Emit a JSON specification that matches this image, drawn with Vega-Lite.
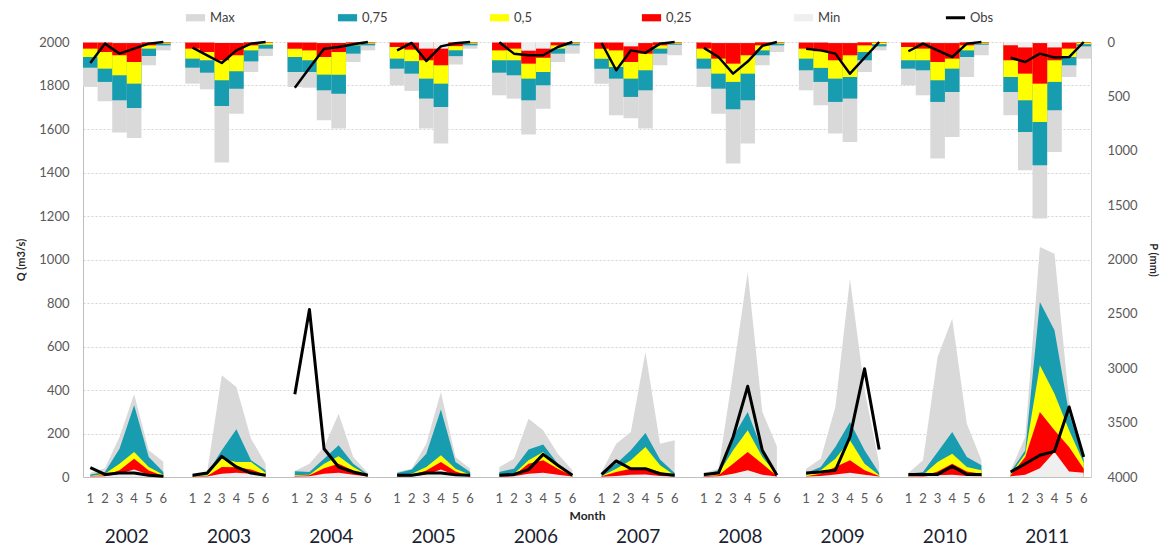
{
  "$schema": "https://vega.github.io/schema/vega-lite/v6.json",
  "width": 1008,
  "height": 435,
  "autosize": {"type": "none"},
  "padding": {"left": 83, "top": 42, "right": 76, "bottom": 72},
  "background": "white",
  "config": {"font": "Lato", "view": {"stroke": null}},
  "datasets": {
    "d": [
      {"k":"2002-1","yr":2002,"qx":20,"q75":12,"q50":5,"q25":3,"qn":2,"qo":43,"px":413,"p75":236,"p50":138,"p25":61,"pn":5,"po":193},
      {"k":"2002-2","yr":2002,"qx":40,"q75":23,"q50":15,"q25":8,"qn":4,"qo":12,"px":545,"p75":367,"p50":245,"p25":92,"pn":5,"po":15},
      {"k":"2002-3","yr":2002,"qx":184,"q75":130,"q50":61,"q25":31,"qn":15,"qo":18,"px":833,"p75":536,"p50":306,"p25":122,"pn":10,"po":107},
      {"k":"2002-4","yr":2002,"qx":380,"q75":330,"q50":115,"q25":84,"qn":35,"qo":18,"px":882,"p75":606,"p50":383,"p25":184,"pn":10,"po":61},
      {"k":"2002-5","yr":2002,"qx":123,"q75":92,"q50":46,"q25":30,"qn":10,"qo":8,"px":214,"p75":129,"p50":61,"p25":31,"pn":3,"po":15},
      {"k":"2002-6","yr":2002,"qx":70,"q75":23,"q50":10,"q25":5,"qn":2,"qo":3,"px":77,"p75":31,"p50":15,"p25":6,"pn":2,"po":0},
      {"k":"2003-1","yr":2003,"qx":12,"q75":8,"q50":4,"q25":2,"qn":1,"qo":8,"px":383,"p75":236,"p50":153,"p25":61,"pn":5,"po":52},
      {"k":"2003-2","yr":2003,"qx":23,"q75":15,"q50":8,"q25":5,"qn":2,"qo":18,"px":435,"p75":282,"p50":168,"p25":92,"pn":5,"po":122},
      {"k":"2003-3","yr":2003,"qx":468,"q75":123,"q50":84,"q25":46,"qn":15,"qo":95,"px":1109,"p75":588,"p50":352,"p25":168,"pn":10,"po":193},
      {"k":"2003-4","yr":2003,"qx":414,"q75":219,"q50":69,"q25":45,"qn":20,"qo":46,"px":659,"p75":429,"p50":270,"p25":122,"pn":10,"po":77},
      {"k":"2003-5","yr":2003,"qx":176,"q75":77,"q50":69,"q25":35,"qn":15,"qo":18,"px":276,"p75":178,"p50":77,"p25":31,"pn":3,"po":15},
      {"k":"2003-6","yr":2003,"qx":61,"q75":31,"q50":20,"q25":10,"qn":3,"qo":8,"px":129,"p75":61,"p50":25,"p25":6,"pn":2,"po":0},
      {"k":"2004-1","yr":2004,"qx":28,"q75":26,"q50":8,"q25":5,"qn":2,"qo":380,"px":413,"p75":276,"p50":138,"p25":61,"pn":5,"po":420},
      {"k":"2004-2","yr":2004,"qx":61,"q75":23,"q50":10,"q25":8,"qn":3,"qo":770,"px":420,"p75":276,"p50":168,"p25":77,"pn":5,"po":239},
      {"k":"2004-3","yr":2004,"qx":138,"q75":84,"q50":61,"q25":40,"qn":15,"qo":130,"px":720,"p75":444,"p50":300,"p25":138,"pn":10,"po":61},
      {"k":"2004-4","yr":2004,"qx":291,"q75":146,"q50":95,"q25":61,"qn":20,"qo":46,"px":796,"p75":475,"p50":300,"p25":92,"pn":10,"po":46},
      {"k":"2004-5","yr":2004,"qx":92,"q75":61,"q50":46,"q25":30,"qn":10,"qo":23,"px":184,"p75":107,"p50":31,"p25":15,"pn":3,"po":21},
      {"k":"2004-6","yr":2004,"qx":18,"q75":12,"q50":8,"q25":5,"qn":2,"qo":8,"px":77,"p75":31,"p50":15,"p25":6,"pn":2,"po":0},
      {"k":"2005-1","yr":2005,"qx":23,"q75":18,"q50":8,"q25":4,"qn":2,"qo":8,"px":398,"p75":245,"p50":153,"p25":46,"pn":5,"po":77},
      {"k":"2005-2","yr":2005,"qx":38,"q75":34,"q50":15,"q25":8,"qn":4,"qo":8,"px":450,"p75":291,"p50":176,"p25":70,"pn":5,"po":9},
      {"k":"2005-3","yr":2005,"qx":153,"q75":107,"q50":46,"q25":30,"qn":12,"qo":18,"px":796,"p75":520,"p50":337,"p25":168,"pn":61,"po":175},
      {"k":"2005-4","yr":2005,"qx":391,"q75":310,"q50":100,"q25":69,"qn":35,"qo":18,"px":933,"p75":597,"p50":383,"p25":214,"pn":61,"po":40},
      {"k":"2005-5","yr":2005,"qx":92,"q75":69,"q50":38,"q25":25,"qn":8,"qo":10,"px":207,"p75":130,"p50":76,"p25":38,"pn":3,"po":12},
      {"k":"2005-6","yr":2005,"qx":38,"q75":23,"q50":10,"q25":5,"qn":2,"qo":8,"px":61,"p75":31,"p50":15,"p25":6,"pn":2,"po":0},
      {"k":"2006-1","yr":2006,"qx":46,"q75":23,"q50":8,"q25":4,"qn":2,"qo":8,"px":490,"p75":282,"p50":168,"p25":77,"pn":5,"po":3},
      {"k":"2006-2","yr":2006,"qx":84,"q75":38,"q50":15,"q25":8,"qn":3,"qo":12,"px":521,"p75":306,"p50":168,"p25":61,"pn":5,"po":107},
      {"k":"2006-3","yr":2006,"qx":268,"q75":126,"q50":77,"q25":61,"qn":15,"qo":34,"px":851,"p75":536,"p50":337,"p25":199,"pn":80,"po":122},
      {"k":"2006-4","yr":2006,"qx":215,"q75":150,"q50":115,"q25":77,"qn":20,"qo":104,"px":613,"p75":398,"p50":276,"p25":145,"pn":61,"po":122},
      {"k":"2006-5","yr":2006,"qx":107,"q75":61,"q50":46,"q25":38,"qn":10,"qo":54,"px":184,"p75":107,"p50":61,"p25":31,"pn":3,"po":46},
      {"k":"2006-6","yr":2006,"qx":31,"q75":12,"q50":8,"q25":5,"qn":2,"qo":8,"px":107,"p75":31,"p50":15,"p25":6,"pn":2,"po":0},
      {"k":"2007-1","yr":2007,"qx":23,"q75":18,"q50":5,"q25":3,"qn":1,"qo":12,"px":383,"p75":245,"p50":153,"p25":61,"pn":5,"po":9},
      {"k":"2007-2","yr":2007,"qx":153,"q75":61,"q50":38,"q25":23,"qn":5,"qo":74,"px":674,"p75":337,"p50":230,"p25":77,"pn":5,"po":260},
      {"k":"2007-3","yr":2007,"qx":207,"q75":123,"q50":77,"q25":38,"qn":10,"qo":38,"px":700,"p75":505,"p50":337,"p25":184,"pn":40,"po":77},
      {"k":"2007-4","yr":2007,"qx":575,"q75":202,"q50":138,"q25":38,"qn":12,"qo":38,"px":796,"p75":444,"p50":260,"p25":107,"pn":10,"po":100},
      {"k":"2007-5","yr":2007,"qx":153,"q75":80,"q50":54,"q25":23,"qn":5,"qo":15,"px":214,"p75":107,"p50":61,"p25":31,"pn":3,"po":15},
      {"k":"2007-6","yr":2007,"qx":169,"q75":18,"q50":8,"q25":5,"qn":2,"qo":8,"px":122,"p75":25,"p50":15,"p25":6,"pn":2,"po":0},
      {"k":"2008-1","yr":2008,"qx":18,"q75":12,"q50":5,"q25":3,"qn":1,"qo":12,"px":413,"p75":245,"p50":153,"p25":61,"pn":5,"po":54},
      {"k":"2008-2","yr":2008,"qx":38,"q75":31,"q50":15,"q25":8,"qn":3,"qo":18,"px":659,"p75":429,"p50":291,"p25":153,"pn":10,"po":138},
      {"k":"2008-3","yr":2008,"qx":480,"q75":184,"q50":123,"q25":61,"qn":15,"qo":184,"px":1118,"p75":619,"p50":367,"p25":199,"pn":10,"po":291},
      {"k":"2008-4","yr":2008,"qx":943,"q75":299,"q50":215,"q25":115,"qn":31,"qo":417,"px":934,"p75":536,"p50":291,"p25":122,"pn":10,"po":180},
      {"k":"2008-5","yr":2008,"qx":300,"q75":123,"q50":92,"q25":61,"qn":10,"qo":123,"px":214,"p75":122,"p50":77,"p25":31,"pn":3,"po":35},
      {"k":"2008-6","yr":2008,"qx":140,"q75":20,"q50":10,"q25":5,"qn":2,"qo":8,"px":92,"p75":31,"p50":15,"p25":6,"pn":2,"po":0},
      {"k":"2009-1","yr":2009,"qx":38,"q75":18,"q50":8,"q25":4,"qn":2,"qo":18,"px":444,"p75":260,"p50":153,"p25":61,"pn":5,"po":61},
      {"k":"2009-2","yr":2009,"qx":84,"q75":46,"q50":31,"q25":15,"qn":5,"qo":23,"px":582,"p75":367,"p50":238,"p25":85,"pn":5,"po":77},
      {"k":"2009-3","yr":2009,"qx":322,"q75":138,"q50":84,"q25":46,"qn":12,"qo":31,"px":842,"p75":551,"p50":337,"p25":168,"pn":10,"po":107},
      {"k":"2009-4","yr":2009,"qx":912,"q75":253,"q50":169,"q25":77,"qn":20,"qo":184,"px":919,"p75":520,"p50":322,"p25":122,"pn":10,"po":291},
      {"k":"2009-5","yr":2009,"qx":400,"q75":123,"q50":61,"q25":31,"qn":10,"qo":498,"px":276,"p75":168,"p50":92,"p25":31,"pn":3,"po":145},
      {"k":"2009-6","yr":2009,"qx":61,"q75":18,"q50":8,"q25":5,"qn":2,"qo":126,"px":77,"p75":40,"p50":20,"p25":6,"pn":2,"po":0},
      {"k":"2010-1","yr":2010,"qx":18,"q75":15,"q50":8,"q25":4,"qn":2,"qo":12,"px":398,"p75":245,"p50":168,"p25":46,"pn":5,"po":85},
      {"k":"2010-2","yr":2010,"qx":77,"q75":23,"q50":10,"q25":5,"qn":2,"qo":12,"px":490,"p75":260,"p50":168,"p25":61,"pn":5,"po":15},
      {"k":"2010-3","yr":2010,"qx":552,"q75":115,"q50":69,"q25":25,"qn":8,"qo":12,"px":1072,"p75":551,"p50":352,"p25":184,"pn":10,"po":77},
      {"k":"2010-4","yr":2010,"qx":728,"q75":207,"q50":107,"q25":61,"qn":10,"qo":49,"px":873,"p75":460,"p50":245,"p25":153,"pn":10,"po":138},
      {"k":"2010-5","yr":2010,"qx":245,"q75":92,"q50":46,"q25":25,"qn":5,"qo":12,"px":322,"p75":138,"p50":77,"p25":31,"pn":3,"po":15},
      {"k":"2010-6","yr":2010,"qx":77,"q75":54,"q50":31,"q25":15,"qn":3,"qo":12,"px":122,"p75":25,"p50":15,"p25":6,"pn":2,"po":0},
      {"k":"2011-1","yr":2011,"qx":31,"q75":23,"q50":12,"q25":8,"qn":3,"qo":23,"px":674,"p75":460,"p50":322,"p25":168,"pn":30,"po":145},
      {"k":"2011-2","yr":2011,"qx":184,"q75":123,"q50":107,"q25":92,"qn":10,"qo":61,"px":1179,"p75":827,"p50":536,"p25":291,"pn":50,"po":184},
      {"k":"2011-3","yr":2011,"qx":1057,"q75":805,"q50":514,"q25":299,"qn":40,"qo":100,"px":1623,"p75":1133,"p50":735,"p25":383,"pn":10,"po":107},
      {"k":"2011-4","yr":2011,"qx":1027,"q75":675,"q50":383,"q25":215,"qn":115,"qo":118,"px":1011,"p75":628,"p50":367,"p25":168,"pn":50,"po":142},
      {"k":"2011-5","yr":2011,"qx":350,"q75":291,"q50":215,"q25":138,"qn":25,"qo":322,"px":322,"p75":214,"p50":138,"p25":61,"pn":5,"po":138},
      {"k":"2011-6","yr":2011,"qx":100,"q75":80,"q50":65,"q25":38,"qn":20,"qo":92,"px":153,"p75":40,"p50":20,"p25":6,"pn":2,"po":0}
    ]
  },
  "data": {"name": "d"},
  "layer": [
    {
      "layer": [
        {
          "mark": {"type": "area", "interpolate": "linear"},
          "encoding": {
            "x": {"field": "k", "type": "ordinal", "title": "Month",
              "scale": {"type": "band", "paddingInner": 0, "paddingOuter": 0, "domain": ["2002-1","2002-2","2002-3","2002-4","2002-5","2002-6","2002-g","2003-1","2003-2","2003-3","2003-4","2003-5","2003-6","2003-g","2004-1","2004-2","2004-3","2004-4","2004-5","2004-6","2004-g","2005-1","2005-2","2005-3","2005-4","2005-5","2005-6","2005-g","2006-1","2006-2","2006-3","2006-4","2006-5","2006-6","2006-g","2007-1","2007-2","2007-3","2007-4","2007-5","2007-6","2007-g","2008-1","2008-2","2008-3","2008-4","2008-5","2008-6","2008-g","2009-1","2009-2","2009-3","2009-4","2009-5","2009-6","2009-g","2010-1","2010-2","2010-3","2010-4","2010-5","2010-6","2010-g","2011-1","2011-2","2011-3","2011-4","2011-5","2011-6"]},
              "axis": {"orient": "bottom", "ticks": false, "tickSize": 0, "labelPadding": 15, "labelAngle": 0, "labelOverlap": false,
                "labelExpr": "substring(datum.value, 5, 6) === 'g' ? '' : substring(datum.value, 5, 6)",
                "labelFont": "Lato", "labelFontSize": 13, "labelColor": "#595959",
                "domainColor": "#bfbfbf", "domainWidth": 1, "grid": false,
                "titleFont": "Lato", "titleFontSize": 12, "titleFontWeight": "bold", "titleColor": "#262626", "titlePadding": 5}},
            "y": {"field": "qx", "type": "quantitative", "stack": null, "title": "Q (m3/s)",
              "scale": {"domain": [0, 2000], "nice": false, "zero": true},
              "axis": {"orient": "left", "values": [0,200,400,600,800,1000,1200,1400,1600,1800,2000], "format": "d", "ticks": false, "tickSize": 0,
                "labelPadding": 14, "labelFont": "Lato", "labelFontSize": 13, "labelColor": "#595959",
                "domainColor": "#bfbfbf", "grid": true, "gridColor": "#d4d4d4", "gridDash": [2, 2], "gridWidth": 1,
                "titleFont": "Lato", "titleFontSize": 11, "titleFontWeight": "bold", "titleColor": "#262626", "titlePadding": 12}},
            "color": {"datum": "Max",
              "scale": {"domain": ["Max", "0,75", "0,5", "0,25", "Min", "Obs"], "range": ["#d9d9d9", "#189cb0", "#ffff00", "#ff0000", "#efefef", "#000000"]},
              "legend": {"orient": "none", "legendX": 106, "legendY": -31, "direction": "horizontal", "title": null,
                "gridAlign": "all", "columns": 6, "columnPadding": 95,
                "symbolType": "M-1.6,-0.6H1.6V0.6H-1.6Z", "symbolSize": 144, "symbolStrokeWidth": 0,
                "labelFont": "Lato", "labelFontSize": 13, "labelColor": "#404040", "labelOffset": 8,
                "encode": {"symbols": {"update": {
                  "shape": {"signal": "datum.value === 'Obs' ? 'M-1.6,0H1.6' : 'M-1.6,-0.6H1.6V0.6H-1.6Z'"},
                  "fill": {"signal": "datum.value === 'Obs' ? 'transparent' : scale('color', datum.value)"},
                  "stroke": {"signal": "datum.value === 'Obs' ? '#000000' : 'transparent'"},
                  "strokeWidth": {"signal": "datum.value === 'Obs' ? 3 : 0"},
                  "opacity": {"value": 1}}}}}},
            "detail": {"field": "yr"}
          }
        },
        {
          "mark": {"type": "area", "interpolate": "linear"},
          "encoding": {
            "x": {"field": "k", "type": "ordinal", "title": "Month"},
            "y": {"field": "q75", "type": "quantitative", "stack": null, "title": "Q (m3/s)"},
            "color": {"datum": "0,75"},
            "detail": {"field": "yr"}
          }
        },
        {
          "mark": {"type": "area", "interpolate": "linear"},
          "encoding": {
            "x": {"field": "k", "type": "ordinal", "title": "Month"},
            "y": {"field": "q50", "type": "quantitative", "stack": null, "title": "Q (m3/s)"},
            "color": {"datum": "0,5"},
            "detail": {"field": "yr"}
          }
        },
        {
          "mark": {"type": "area", "interpolate": "linear"},
          "encoding": {
            "x": {"field": "k", "type": "ordinal", "title": "Month"},
            "y": {"field": "q25", "type": "quantitative", "stack": null, "title": "Q (m3/s)"},
            "color": {"datum": "0,25"},
            "detail": {"field": "yr"}
          }
        },
        {
          "mark": {"type": "area", "interpolate": "linear"},
          "encoding": {
            "x": {"field": "k", "type": "ordinal", "title": "Month"},
            "y": {"field": "qn", "type": "quantitative", "stack": null, "title": "Q (m3/s)"},
            "color": {"datum": "Min"},
            "detail": {"field": "yr"}
          }
        },
        {
          "mark": {"type": "line", "interpolate": "linear", "strokeWidth": 3, "strokeJoin": "round"},
          "encoding": {
            "x": {"field": "k", "type": "ordinal", "title": "Month"},
            "y": {"field": "qo", "type": "quantitative", "title": "Q (m3/s)"},
            "color": {"datum": "Obs"},
            "detail": {"field": "yr"}
          }
        }
      ]
    },
    {
      "layer": [
        {
          "mark": {"type": "bar"},
          "encoding": {
            "x": {"field": "k", "type": "ordinal", "axis": null},
            "y": {"field": "px", "type": "quantitative", "stack": null, "title": "P (mm)",
              "scale": {"domain": [0, 4000], "reverse": true, "nice": false},
              "axis": {"orient": "right", "values": [0,500,1000,1500,2000,2500,3000,3500,4000], "format": "d", "ticks": false, "tickSize": 0,
                "labelPadding": 16, "labelFont": "Lato", "labelFontSize": 13, "labelColor": "#595959",
                "domainColor": "#d0d0d0", "grid": false,
                "titleFont": "Lato", "titleFontSize": 11, "titleFontWeight": "bold", "titleColor": "#262626", "titlePadding": 10}},
            "color": {"datum": "Max"}
          }
        },
        {
          "mark": {"type": "bar"},
          "encoding": {
            "x": {"field": "k", "type": "ordinal", "axis": null},
            "y": {"field": "p75", "type": "quantitative", "stack": null, "title": "P (mm)"},
            "color": {"datum": "0,75"}
          }
        },
        {
          "mark": {"type": "bar"},
          "encoding": {
            "x": {"field": "k", "type": "ordinal", "axis": null},
            "y": {"field": "p50", "type": "quantitative", "stack": null, "title": "P (mm)"},
            "color": {"datum": "0,5"}
          }
        },
        {
          "mark": {"type": "bar"},
          "encoding": {
            "x": {"field": "k", "type": "ordinal", "axis": null},
            "y": {"field": "p25", "type": "quantitative", "stack": null, "title": "P (mm)"},
            "color": {"datum": "0,25"}
          }
        },
        {
          "mark": {"type": "bar"},
          "encoding": {
            "x": {"field": "k", "type": "ordinal", "axis": null},
            "y": {"field": "pn", "type": "quantitative", "stack": null, "title": "P (mm)"},
            "color": {"datum": "Min"}
          }
        },
        {
          "mark": {"type": "line", "interpolate": "linear", "strokeWidth": 2.5, "strokeJoin": "round"},
          "encoding": {
            "x": {"field": "k", "type": "ordinal", "axis": null},
            "y": {"field": "po", "type": "quantitative", "title": "P (mm)"},
            "color": {"datum": "Obs"},
            "detail": {"field": "yr"}
          }
        }
      ]
    },
    {
      "mark": {"type": "text", "text": ""},
      "encoding": {
        "x": {"field": "k", "type": "ordinal", "title": null,
          "axis": {"orient": "bottom", "values": ["2002-4","2003-4","2004-4","2005-4","2006-4","2007-4","2008-4","2009-4","2010-4","2011-4"],
            "labelExpr": "substring(datum.value, 0, 4)", "labelOffset": -7.3, "ticks": false, "tickSize": 0, "domain": false, "grid": false,
            "labelPadding": 50, "labelAngle": 0, "labelOverlap": false, "labelFont": "Lato", "labelFontSize": 19, "labelColor": "#1b1f33"}}
      }
    }
  ],
  "resolve": {"scale": {"y": "independent"}, "axis": {"x": "independent"}}
}
